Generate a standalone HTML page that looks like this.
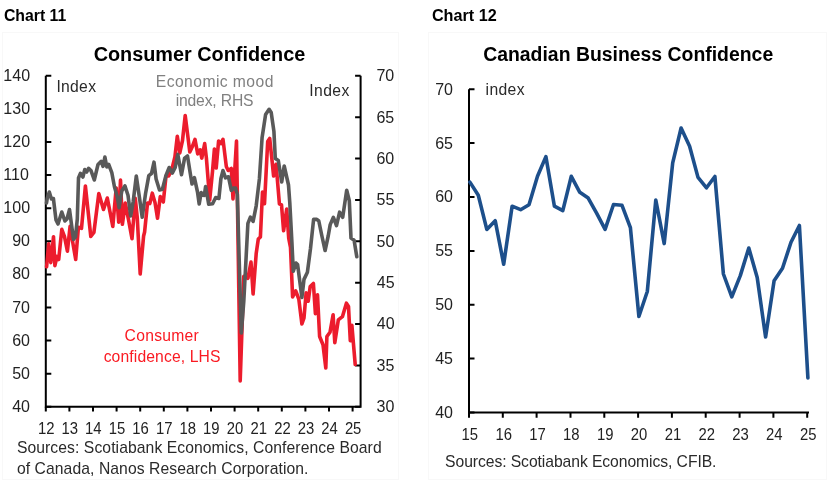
<!DOCTYPE html>
<html><head><meta charset="utf-8"><title>Charts 11 and 12</title>
<style>
html,body{margin:0;padding:0;background:#fff;}
body{width:828px;height:482px;overflow:hidden;position:relative;}
svg{position:absolute;left:0;top:0;display:block;will-change:transform;}
.t{font-size:15.2px;fill:#1a1a1a;}
text{font-family:"Liberation Sans", Arial, sans-serif;}
</style></head><body>
<svg width="828" height="482" viewBox="0 0 828 482">
<rect x="2.5" y="32.5" width="396" height="447" fill="#fff" stroke="#f8f8f8" stroke-width="1"/>
<rect x="428.5" y="32.5" width="398" height="447" fill="#fff" stroke="#f8f8f8" stroke-width="1"/>
<text x="3.93" y="20.80" textLength="62.43" lengthAdjust="spacingAndGlyphs" style="font-size:16.4px;font-weight:bold;fill:#000">Chart 11</text>
<text x="431.93" y="20.90" textLength="64.83" lengthAdjust="spacingAndGlyphs" style="font-size:16.4px;font-weight:bold;fill:#000">Chart 12</text>
<path d="M45.8,75.8V406.8M44.8,406.8H361.6M360.6,75.8V406.8" stroke="#000" stroke-width="2" fill="none"/>
<path d="M45.8,75.8h5.5M45.8,108.9h5.5M45.8,142.0h5.5M45.8,175.1h5.5M45.8,208.2h5.5M45.8,241.3h5.5M45.8,274.4h5.5M45.8,307.5h5.5M45.8,340.6h5.5M45.8,373.7h5.5M45.8,406.8h5.5M360.6,75.8h-5.5M360.6,117.2h-5.5M360.6,158.6h-5.5M360.6,199.9h-5.5M360.6,241.3h-5.5M360.6,282.7h-5.5M360.6,324.1h-5.5M360.6,365.4h-5.5M360.6,406.8h-5.5M45.8,406.8v4.8M69.4,406.8v4.8M93.0,406.8v4.8M116.6,406.8v4.8M140.2,406.8v4.8M163.8,406.8v4.8M187.4,406.8v4.8M211.0,406.8v4.8M234.6,406.8v4.8M258.2,406.8v4.8M281.8,406.8v4.8M305.4,406.8v4.8M329.0,406.8v4.8M352.6,406.8v4.8" stroke="#000" stroke-width="2" fill="none"/>
<text x="3.33" y="80.80" style="font-size:16px;font-weight:normal;fill:#222">140</text>
<text x="3.33" y="113.90" style="font-size:16px;font-weight:normal;fill:#222">130</text>
<text x="3.33" y="147.00" style="font-size:16px;font-weight:normal;fill:#222">120</text>
<text x="3.33" y="180.10" style="font-size:16px;font-weight:normal;fill:#222">110</text>
<text x="3.33" y="213.20" style="font-size:16px;font-weight:normal;fill:#222">100</text>
<text x="12.23" y="246.30" style="font-size:16px;font-weight:normal;fill:#222">90</text>
<text x="12.23" y="279.40" style="font-size:16px;font-weight:normal;fill:#222">80</text>
<text x="12.23" y="312.50" style="font-size:16px;font-weight:normal;fill:#222">70</text>
<text x="12.23" y="345.60" style="font-size:16px;font-weight:normal;fill:#222">60</text>
<text x="12.23" y="378.70" style="font-size:16px;font-weight:normal;fill:#222">50</text>
<text x="12.23" y="411.80" style="font-size:16px;font-weight:normal;fill:#222">40</text>
<text x="376.38" y="81.20" style="font-size:16px;font-weight:normal;fill:#222">70</text>
<text x="376.39" y="122.58" style="font-size:16px;font-weight:normal;fill:#222">65</text>
<text x="376.39" y="163.95" style="font-size:16px;font-weight:normal;fill:#222">60</text>
<text x="376.56" y="205.32" style="font-size:16px;font-weight:normal;fill:#222">55</text>
<text x="376.56" y="246.70" style="font-size:16px;font-weight:normal;fill:#222">50</text>
<text x="376.83" y="288.07" style="font-size:16px;font-weight:normal;fill:#222">45</text>
<text x="376.83" y="329.45" style="font-size:16px;font-weight:normal;fill:#222">40</text>
<text x="376.59" y="370.82" style="font-size:16px;font-weight:normal;fill:#222">35</text>
<text x="376.59" y="412.20" style="font-size:16px;font-weight:normal;fill:#222">30</text>
<text x="37.93" y="433.70" textLength="16.54" lengthAdjust="spacingAndGlyphs" style="font-size:16px;font-weight:normal;fill:#222">12</text>
<text x="61.48" y="433.70" textLength="16.53" lengthAdjust="spacingAndGlyphs" style="font-size:16px;font-weight:normal;fill:#222">13</text>
<text x="84.97" y="433.70" textLength="16.51" lengthAdjust="spacingAndGlyphs" style="font-size:16px;font-weight:normal;fill:#222">14</text>
<text x="108.66" y="433.70" textLength="16.52" lengthAdjust="spacingAndGlyphs" style="font-size:16px;font-weight:normal;fill:#222">15</text>
<text x="132.28" y="433.70" textLength="16.53" lengthAdjust="spacingAndGlyphs" style="font-size:16px;font-weight:normal;fill:#222">16</text>
<text x="155.93" y="433.70" textLength="16.54" lengthAdjust="spacingAndGlyphs" style="font-size:16px;font-weight:normal;fill:#222">17</text>
<text x="179.48" y="433.70" textLength="16.53" lengthAdjust="spacingAndGlyphs" style="font-size:16px;font-weight:normal;fill:#222">18</text>
<text x="203.10" y="433.70" textLength="16.53" lengthAdjust="spacingAndGlyphs" style="font-size:16px;font-weight:normal;fill:#222">19</text>
<text x="226.87" y="433.70" textLength="16.49" lengthAdjust="spacingAndGlyphs" style="font-size:16px;font-weight:normal;fill:#222">20</text>
<text x="250.54" y="433.70" textLength="16.50" lengthAdjust="spacingAndGlyphs" style="font-size:16px;font-weight:normal;fill:#222">21</text>
<text x="274.15" y="433.70" textLength="16.50" lengthAdjust="spacingAndGlyphs" style="font-size:16px;font-weight:normal;fill:#222">22</text>
<text x="297.70" y="433.70" textLength="16.49" lengthAdjust="spacingAndGlyphs" style="font-size:16px;font-weight:normal;fill:#222">23</text>
<text x="321.19" y="433.70" textLength="16.48" lengthAdjust="spacingAndGlyphs" style="font-size:16px;font-weight:normal;fill:#222">24</text>
<text x="344.89" y="433.70" textLength="16.49" lengthAdjust="spacingAndGlyphs" style="font-size:16px;font-weight:normal;fill:#222">25</text>
<polyline points="46.6,266.8 48.7,243.9 50.8,262.6 52.0,252.2 53.5,236.7 54.9,265.7 57.0,256.4 58.7,259.5 61.8,229.4 64.5,236.7 67.4,251.2 70.1,226.3 73.2,245.0 75.7,259.5 78.4,227.3 81.5,228.4 85.4,186.0 90.8,236.5 93.9,232.5 98.8,193.5 103.5,209.5 107.3,198.0 110.0,211.9 112.8,226.5 116.2,188.0 118.7,222.2 120.5,180.0 122.4,224.3 125.3,203.0 128.6,220.2 132.0,238.8 135.3,198.4 137.3,218.1 140.2,274.0 143.6,236.0 144.6,232.0 147.5,203.0 149.8,203.6 152.3,193.2 155.0,202.5 157.5,218.2 160.3,196.5 163.3,202.0 166.0,176.0 168.7,176.0 171.8,169.5 174.9,157.0 177.3,136.3 179.8,152.9 182.5,140.5 185.2,115.5 187.7,135.3 189.8,151.9 192.3,146.7 195.0,139.4 197.7,153.9 200.2,149.8 201.8,158.1 204.7,143.6 206.4,158.1 209.7,200.0 212.5,171.5 214.4,149.0 216.2,168.0 218.6,141.0 220.9,143.6 223.0,139.4 226.3,166.4 228.2,170.5 231.3,168.5 233.0,199.0 236.5,141.0 240.2,381.0 243.8,276.4 247.9,278.3 251.0,262.0 253.1,294.0 256.2,253.5 258.3,239.0 260.4,236.9 262.5,192.0 264.5,203.7 267.7,141.5 269.7,138.4 272.2,162.0 273.6,176.0 276.1,164.3 279.4,203.9 281.5,204.9 283.6,230.8 286.7,209.0 288.7,238.1 290.5,247.3 292.6,297.0 295.7,290.8 298.8,299.0 301.9,324.0 304.0,317.8 306.1,292.8 308.2,301.2 310.2,286.6 313.4,283.5 315.4,313.6 317.5,294.9 319.6,336.5 323.0,344.8 325.8,368.0 326.9,336.5 330.0,332.3 333.1,314.7 334.8,342.7 338.3,319.9 342.4,316.7 346.4,303.2 348.5,306.4 350.3,340.6 351.9,325.3 355.2,364.5" fill="none" stroke="#ec1c2d" stroke-width="3.6" stroke-linejoin="round" stroke-linecap="round"/>
<polyline points="46.5,203.0 47.3,198.0 49.3,192.0 51.4,199.0 53.4,198.5 56.0,220.0 58.0,224.0 61.8,212.0 64.9,221.0 67.0,219.0 69.5,209.5 73.5,239.5 75.5,237.0 77.3,219.0 78.5,178.0 80.4,173.3 82.9,177.0 84.8,169.5 86.7,172.0 88.6,168.3 91.1,170.8 94.3,180.0 98.0,164.5 101.2,161.4 103.0,166.4 104.9,157.0 106.8,167.0 108.7,164.5 111.8,172.7 114.4,186.5 117.3,197.0 119.1,207.7 121.8,191.0 124.9,185.9 128.0,195.3 130.7,216.0 133.2,201.5 136.3,176.0 139.4,197.3 142.2,217.2 145.6,193.2 148.8,175.6 151.5,173.5 154.0,162.2 156.1,179.0 159.5,190.0 162.4,189.2 165.9,175.7 169.2,167.5 172.4,173.0 175.2,167.4 177.8,154.4 181.5,174.7 184.6,158.1 187.5,156.0 189.8,170.5 192.0,184.0 194.4,177.7 197.5,192.0 199.2,204.0 201.2,192.5 202.5,195.0 204.3,195.4 205.6,186.5 208.7,204.2 212.6,203.7 215.7,197.5 218.9,198.5 220.9,178.8 223.0,170.5 225.5,177.8 228.5,176.8 231.3,190.5 233.5,188.0 235.5,188.1 237.3,194.0 241.3,333.0 243.8,301.2 247.9,223.4 250.4,217.2 253.1,221.4 256.2,205.8 259.4,178.9 262.1,137.4 265.6,114.5 269.1,109.3 271.2,112.5 273.9,131.2 275.3,158.5 278.3,160.5 281.7,182.0 284.2,166.0 288.5,185.0 289.8,202.8 291.9,242.2 293.3,271.3 296.0,263.0 297.6,264.5 301.9,297.5 304.0,279.4 307.4,272.3 310.5,248.5 313.6,219.4 316.8,219.4 318.8,221.0 321.9,236.0 325.1,250.5 328.2,236.0 330.2,224.6 333.4,217.3 336.5,225.6 339.6,212.2 342.7,217.3 346.7,190.3 349.3,200.7 351.0,238.1 354.1,240.2 356.8,256.8" fill="none" stroke="#595959" stroke-width="3.6" stroke-linejoin="round" stroke-linecap="round"/>
<text x="56.45" y="92.00" textLength="39.52" lengthAdjust="spacing" style="font-size:15.7px;font-weight:normal;fill:#2a2a2a">Index</text>
<text x="309.25" y="95.50" textLength="40.02" lengthAdjust="spacing" style="font-size:15.7px;font-weight:normal;fill:#2a2a2a">Index</text>
<text x="155.81" y="86.50" textLength="117.60" lengthAdjust="spacing" style="font-size:15.7px;font-weight:normal;fill:#808080">Economic mood</text>
<text x="175.65" y="106.40" textLength="77.87" lengthAdjust="spacing" style="font-size:15.7px;font-weight:normal;fill:#808080">index, RHS</text>
<text x="124.60" y="341.00" textLength="74.16" lengthAdjust="spacing" style="font-size:15.7px;font-weight:normal;fill:#fa1a22">Consumer</text>
<text x="103.63" y="362.20" textLength="116.89" lengthAdjust="spacing" style="font-size:15.7px;font-weight:normal;fill:#fa1a22">confidence, LHS</text>
<text x="93.67" y="61.00" textLength="211.63" lengthAdjust="spacingAndGlyphs" style="font-size:20.3px;font-weight:bold;fill:#000">Consumer Confidence</text>
<text x="16.89" y="453.10" textLength="364.72" lengthAdjust="spacing" style="font-size:15.7px;font-weight:normal;fill:#2a2a2a">Sources: Scotiabank Economics, Conference Board</text>
<text x="16.94" y="474.20" textLength="291.49" lengthAdjust="spacing" style="font-size:15.7px;font-weight:normal;fill:#2a2a2a">of Canada, Nanos Research Corporation.</text>
<path d="M469,89.2V412.5M468,412.5H809" stroke="#000" stroke-width="2" fill="none"/>
<path d="M469,89.2h5.5M469,143.1h5.5M469,197.0h5.5M469,250.9h5.5M469,304.7h5.5M469,358.6h5.5M469,412.5h5.5M469.0,412.5v5.3M502.8,412.5v5.3M536.6,412.5v5.3M570.5,412.5v5.3M604.3,412.5v5.3M638.1,412.5v5.3M671.9,412.5v5.3M705.7,412.5v5.3M739.6,412.5v5.3M773.4,412.5v5.3M807.2,412.5v5.3" stroke="#000" stroke-width="2" fill="none"/>
<text x="435.13" y="94.70" style="font-size:16px;font-weight:normal;fill:#222">70</text>
<text x="435.18" y="148.58" style="font-size:16px;font-weight:normal;fill:#222">65</text>
<text x="435.13" y="202.47" style="font-size:16px;font-weight:normal;fill:#222">60</text>
<text x="435.18" y="256.35" style="font-size:16px;font-weight:normal;fill:#222">55</text>
<text x="435.13" y="310.23" style="font-size:16px;font-weight:normal;fill:#222">50</text>
<text x="435.18" y="364.12" style="font-size:16px;font-weight:normal;fill:#222">45</text>
<text x="435.13" y="418.00" style="font-size:16px;font-weight:normal;fill:#222">40</text>
<text x="461.56" y="440.00" textLength="16.52" lengthAdjust="spacingAndGlyphs" style="font-size:16px;font-weight:normal;fill:#222">15</text>
<text x="495.40" y="440.00" textLength="16.53" lengthAdjust="spacingAndGlyphs" style="font-size:16px;font-weight:normal;fill:#222">16</text>
<text x="529.27" y="440.00" textLength="16.54" lengthAdjust="spacingAndGlyphs" style="font-size:16px;font-weight:normal;fill:#222">17</text>
<text x="563.04" y="440.00" textLength="16.53" lengthAdjust="spacingAndGlyphs" style="font-size:16px;font-weight:normal;fill:#222">18</text>
<text x="596.88" y="440.00" textLength="16.53" lengthAdjust="spacingAndGlyphs" style="font-size:16px;font-weight:normal;fill:#222">19</text>
<text x="630.87" y="440.00" textLength="16.49" lengthAdjust="spacingAndGlyphs" style="font-size:16px;font-weight:normal;fill:#222">20</text>
<text x="664.76" y="440.00" textLength="16.50" lengthAdjust="spacingAndGlyphs" style="font-size:16px;font-weight:normal;fill:#222">21</text>
<text x="698.59" y="440.00" textLength="16.50" lengthAdjust="spacingAndGlyphs" style="font-size:16px;font-weight:normal;fill:#222">22</text>
<text x="732.36" y="440.00" textLength="16.49" lengthAdjust="spacingAndGlyphs" style="font-size:16px;font-weight:normal;fill:#222">23</text>
<text x="766.07" y="440.00" textLength="16.48" lengthAdjust="spacingAndGlyphs" style="font-size:16px;font-weight:normal;fill:#222">24</text>
<text x="799.99" y="440.00" textLength="16.49" lengthAdjust="spacingAndGlyphs" style="font-size:16px;font-weight:normal;fill:#222">25</text>
<polyline points="469.9,182.1 478.3,195.2 486.8,229.4 495.2,220.7 503.7,264.3 512.1,206.2 520.6,209.7 529.0,204.7 537.5,176.3 545.9,156.6 554.4,206.2 562.8,210.6 571.3,176.3 579.8,192.3 588.2,198.1 596.6,213.2 605.1,229.4 613.5,204.5 622.0,205.3 630.4,227.7 638.9,316.5 647.3,291.5 655.8,200.0 664.2,243.6 672.7,162.9 681.1,128.0 689.6,146.3 698.0,177.4 706.5,187.8 714.9,176.5 723.4,274.0 731.8,296.9 740.3,275.6 748.8,248.0 757.2,277.6 765.6,337.0 774.1,280.7 782.5,268.3 791.0,242.2 799.4,225.5 807.9,378.0" fill="none" stroke="#1d4f8b" stroke-width="3.6" stroke-linejoin="round" stroke-linecap="round"/>
<text x="485.55" y="94.60" textLength="38.92" lengthAdjust="spacing" style="font-size:15.7px;font-weight:normal;fill:#2a2a2a">index</text>
<text x="483.17" y="60.60" textLength="290.03" lengthAdjust="spacingAndGlyphs" style="font-size:20.3px;font-weight:bold;fill:#000">Canadian Business Confidence</text>
<text x="445.09" y="467.40" textLength="271.35" lengthAdjust="spacing" style="font-size:15.7px;font-weight:normal;fill:#2a2a2a">Sources: Scotiabank Economics, CFIB.</text>
</svg>
</body></html>
